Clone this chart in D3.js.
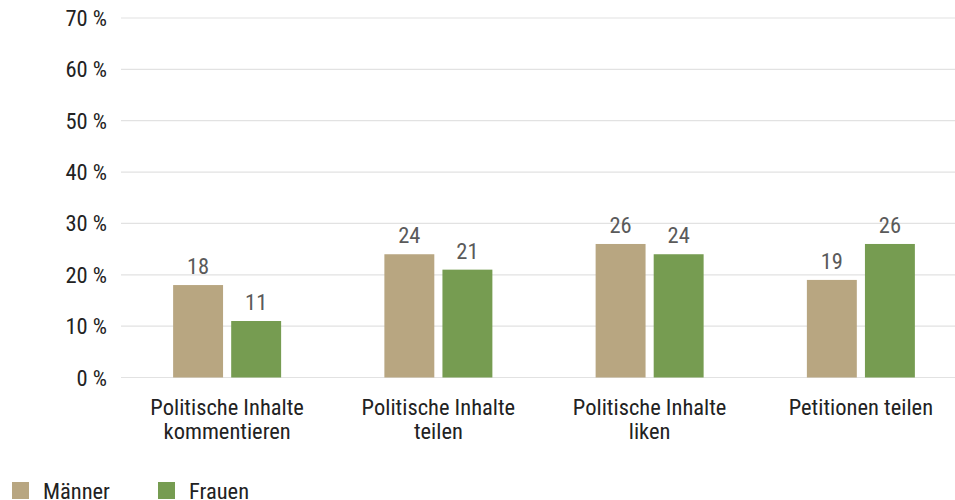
<!DOCTYPE html>
<html>
<head>
<meta charset="utf-8">
<script src="https://cdn.jsdelivr.net/npm/d3@7"></script>
<style>
  body { margin: 0; background: #fff; }
  text { font-family: "Roboto Condensed", Roboto, sans-serif; }
</style>
</head>
<body>
<div id="chart"></div>
<script>
const categories = [
  ["Politische Inhalte", "kommentieren"],
  ["Politische Inhalte", "teilen"],
  ["Politische Inhalte", "liken"],
  ["Petitionen teilen"]
];
const seriesNames = ["Männer", "Frauen"];
const maenner = [18, 24, 26, 19];
const frauen = [11, 21, 24, 26];
const yTicks = [0, 10, 20, 30, 40, 50, 60, 70];
const colors = ["#b8a681", "#769c51"];

const width = 955, height = 500;
const svg = d3.select("#chart").append("svg")
  .attr("width", width).attr("height", height);

const fs = 22.5;
const catIdx = categories.map((d, i) => i);

const x = d3.scaleBand().domain(catIdx).range([121.5, 966.5]);
const y = d3.scaleLinear().domain([0, 70]).range([377.5, 18]);
const xs = d3.scaleBand().domain([0, 1]).range([-54, 54]).paddingInner(0.14);

// grid
svg.append("g").selectAll("line")
  .data(yTicks).enter().append("line")
  .attr("x1", 121).attr("x2", width)
  .attr("y1", d => y(d)).attr("y2", d => y(d))
  .attr("stroke", "#e2e2e2").attr("stroke-width", 1.2);

// y labels
svg.append("g").selectAll("text")
  .data(yTicks).enter().append("text")
  .attr("x", 107).attr("y", d => y(d) + 8)
  .attr("text-anchor", "end")
  .attr("font-size", fs).attr("fill", "#222")
  .text(d => d + " %");

// bars
const series = [maenner, frauen];
series.forEach((vals, s) => {
  const g = svg.append("g");
  g.selectAll("rect").data(vals).enter().append("rect")
    .attr("x", (d, i) => x(i) + x.bandwidth() / 2 + xs(s))
    .attr("width", xs.bandwidth())
    .attr("y", d => y(d))
    .attr("height", d => y(0) - y(d))
    .attr("fill", colors[s]);
  g.selectAll("text").data(vals).enter().append("text")
    .attr("x", (d, i) => x(i) + x.bandwidth() / 2 + xs(s) + xs.bandwidth() / 2)
    .attr("y", d => y(d) - 11)
    .attr("text-anchor", "middle")
    .attr("font-size", fs).attr("fill", "#5a5a5a")
    .text(d => d);
});

// category labels
const cat = svg.append("g").selectAll("text")
  .data(categories).enter().append("text")
  .attr("transform", (d, i) => `translate(${x(i) + x.bandwidth() / 2},415)`)
  .attr("text-anchor", "middle")
  .attr("font-size", fs).attr("fill", "#222");
cat.selectAll("tspan").data(d => d).enter().append("tspan")
  .attr("x", 0).attr("dy", (d, j) => j ? 24 : 0)
  .text(d => d);

// legend
const leg = svg.append("g").selectAll("g")
  .data(seriesNames).enter().append("g")
  .attr("transform", (d, i) => `translate(12,482) translate(${i * 146},0)`);
leg.append("rect").attr("width", 17).attr("height", 17)
  .attr("fill", (d, i) => colors[i]);
leg.append("text")
  .attr("x", 31).attr("y", 17)
  .attr("font-size", fs).attr("fill", "#222")
  .text(d => d);
</script>
</body>
</html>
